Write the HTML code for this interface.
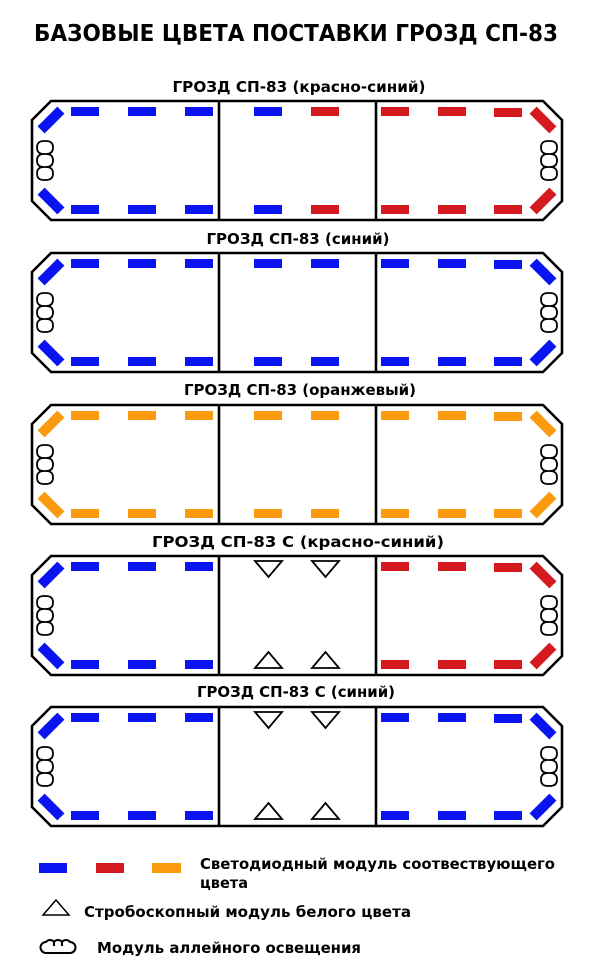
<!DOCTYPE html>
<html><head><meta charset="utf-8"><style>
html,body{margin:0;padding:0;background:#fff;width:600px;height:970px;overflow:hidden}
svg text{font-family:"DejaVu Sans","Liberation Sans",sans-serif;font-weight:bold;fill:#000}
</style></head><body>
<svg width="600" height="970" viewBox="0 0 600 970" xmlns="http://www.w3.org/2000/svg">
<defs>
<g id="frame" fill="none" stroke="#000" stroke-width="2.6">
<path d="M51,0 H543 L562,19 V100 L543,119 H51 L32,100 V19 Z"/>
<line x1="219" y1="0" x2="219" y2="119"/><line x1="376" y1="0" x2="376" y2="119"/>
</g>
<path id="allee" d="M-1,0 H1 Q8,0 8,6.5 Q8,13 1,13 Q8,13 8,19.5 Q8,26 1,26 Q8,26 8,32.5 Q8,39 1,39 H-1 Q-8,39 -8,32.5 Q-8,26 -1,26 Q-8,26 -8,19.5 Q-8,13 -1,13 Q-8,13 -8,6.5 Q-8,0 -1,0 Z M-1,13 H1 M-1,26 H1" fill="#fff" stroke="#000" stroke-width="1.8"/>
<g id="left">
<rect x="71" y="6" width="28" height="9"/><rect x="128" y="6" width="28" height="9"/><rect x="185" y="6" width="28" height="9"/>
<rect x="71" y="104" width="28" height="9"/><rect x="128" y="104" width="28" height="9"/><rect x="185" y="104" width="28" height="9"/>
<rect x="37" y="14" width="28" height="10" transform="rotate(-45 51 19)"/>
<rect x="37" y="95" width="28" height="10" transform="rotate(45 51 100)"/>
</g>
<g id="m1"><rect x="254" y="6" width="28" height="9"/><rect x="254" y="104" width="28" height="9"/></g>
<g id="m2"><rect x="311" y="6" width="28" height="9"/><rect x="311" y="104" width="28" height="9"/></g>
<g id="right">
<rect x="381" y="6" width="28" height="9"/><rect x="438" y="6" width="28" height="9"/><rect x="494" y="7" width="28" height="9"/>
<rect x="381" y="104" width="28" height="9"/><rect x="438" y="104" width="28" height="9"/><rect x="494" y="104" width="28" height="9"/>
<rect x="529" y="14" width="28" height="10" transform="rotate(45 543 19)"/>
<rect x="529" y="95" width="28" height="10" transform="rotate(-45 543 100)"/>
</g>
<g id="strobe" fill="#fff" stroke="#000" stroke-width="1.8">
<path d="M255,5 H282 L268.5,21 Z"/><path d="M312,5 H339 L325.5,21 Z"/>
<path d="M255,112 H282 L268.5,96 Z"/><path d="M312,112 H339 L325.5,96 Z"/>
</g>
<g id="base"><use href="#frame"/><use href="#allee" x="45" y="40"/><use href="#allee" x="549" y="40"/></g>
</defs>

<text x="296" y="41" font-size="23" text-anchor="middle" textLength="524" lengthAdjust="spacingAndGlyphs">БАЗОВЫЕ ЦВЕТА ПОСТАВКИ ГРОЗД СП-83</text>

<text x="299" y="92" font-size="15" text-anchor="middle" textLength="253" lengthAdjust="spacingAndGlyphs">ГРОЗД СП-83 (красно-синий)</text>
<g transform="translate(0,101)"><use href="#base"/><use href="#left" fill="#0a14f0"/><use href="#m1" fill="#0a14f0"/><use href="#m2" fill="#d41a1f"/><use href="#right" fill="#d41a1f"/></g>

<text x="298" y="244" font-size="15" text-anchor="middle" textLength="183" lengthAdjust="spacingAndGlyphs">ГРОЗД СП-83 (синий)</text>
<g transform="translate(0,253)"><use href="#base"/><use href="#left" fill="#0a14f0"/><use href="#m1" fill="#0a14f0"/><use href="#m2" fill="#0a14f0"/><use href="#right" fill="#0a14f0"/></g>

<text x="300" y="395" font-size="15" text-anchor="middle" textLength="232" lengthAdjust="spacingAndGlyphs">ГРОЗД СП-83 (оранжевый)</text>
<g transform="translate(0,405)"><use href="#base"/><use href="#left" fill="#fb9a0e"/><use href="#m1" fill="#fb9a0e"/><use href="#m2" fill="#fb9a0e"/><use href="#right" fill="#fb9a0e"/></g>

<text x="298" y="547" font-size="15" text-anchor="middle" textLength="292" lengthAdjust="spacingAndGlyphs">ГРОЗД СП-83 С (красно-синий)</text>
<g transform="translate(0,556)"><use href="#base"/><use href="#left" fill="#0a14f0"/><use href="#strobe"/><use href="#right" fill="#d41a1f"/></g>

<text x="296" y="697" font-size="15" text-anchor="middle" textLength="198" lengthAdjust="spacingAndGlyphs">ГРОЗД СП-83 С (синий)</text>
<g transform="translate(0,707)"><use href="#base"/><use href="#left" fill="#0a14f0"/><use href="#strobe"/><use href="#right" fill="#0a14f0"/></g>

<rect x="39" y="863" width="28" height="10" fill="#0a14f0"/>
<rect x="96" y="863" width="28" height="10" fill="#d41a1f"/>
<rect x="152" y="863" width="29" height="10" fill="#fb9a0e"/>
<text x="200" y="869" font-size="15" textLength="355" lengthAdjust="spacingAndGlyphs">Светодиодный модуль соотвествующего</text>
<text x="200" y="888" font-size="15" textLength="48" lengthAdjust="spacingAndGlyphs">цвета</text>
<path d="M43,915 L56,900 L69,915 Z" fill="#fff" stroke="#000" stroke-width="1.5"/>
<text x="84" y="917" font-size="15" textLength="327" lengthAdjust="spacingAndGlyphs">Стробоскопный модуль белого цвета</text>
<path d="M46,953 H70 A5.5,5.5 0 0 0 70,942 A5,5 0 0 0 62,942 A5,5 0 0 0 54,942 A5,5 0 0 0 46,942 A5.5,5.5 0 0 0 46,953 Z M54,942 V946 M62,942 V946" fill="#fff" stroke="#000" stroke-width="2"/>
<text x="97" y="953" font-size="15" textLength="264" lengthAdjust="spacingAndGlyphs">Модуль аллейного освещения</text>
</svg>
</body></html>
